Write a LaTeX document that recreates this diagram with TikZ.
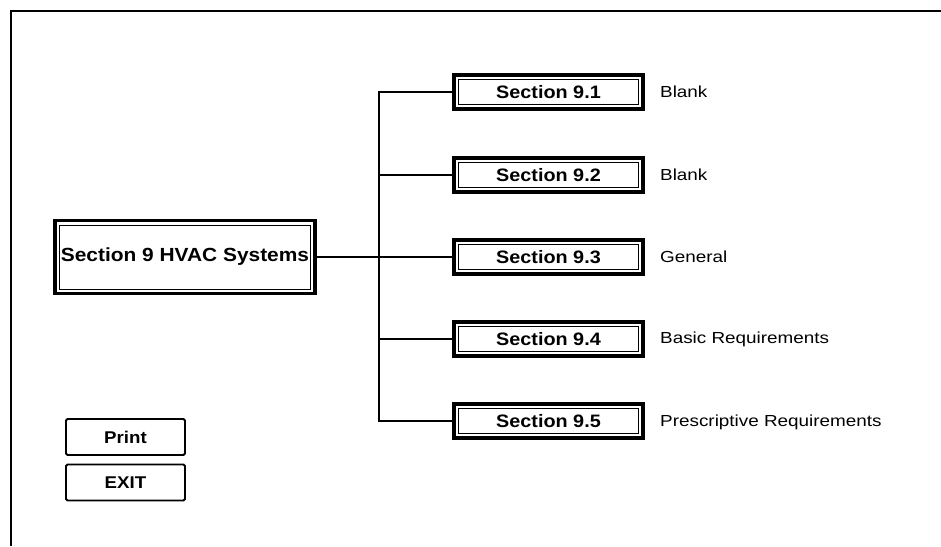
\documentclass[tikz,border=0pt]{standalone}
\usepackage{fontspec}
\setmainfont{Liberation Sans}
\newfontfamily\boxfont[FakeStretch=1.1]{Liberation Sans Bold}
\newfontfamily\labfont[FakeStretch=1.18]{Liberation Sans}
\begin{document}
\begin{tikzpicture}[x=1pt,y=-1pt,
  secbox/.style={draw=black,line width=3.4pt,fill=white,inner sep=0pt,outer sep=0pt,
    minimum width=189pt,minimum height=34pt,font=\boxfont\fontsize{18}{20}\selectfont},
  mainbox/.style={secbox,minimum width=260pt,minimum height=73pt,font=\boxfont\fontsize{19}{21}\selectfont},
  btn/.style={draw=black,line width=1.8pt,rounded corners=1.5pt,inner sep=0pt,outer sep=0pt,
    minimum width=119pt,minimum height=36pt,font=\boxfont\fontsize{17}{20}\selectfont},
  lab/.style={anchor=west,inner sep=0pt,font=\labfont\fontsize{16}{19}\selectfont},
  conn/.style={line width=2.8pt,black},
  inner/.style={line width=1pt,black}]
\useasboundingbox (0,0) rectangle (941,546);
% frame
\draw[line width=2.4pt] (11,546) -- (11,11) -- (941,11);
% boxes
\node[mainbox] (main) at (185,257) {Section 9 HVAC Systems};
\node[secbox] (s1) at (548.5,92) {Section 9.1};
\node[secbox] (s2) at (548.5,175) {Section 9.2};
\node[secbox] (s3) at (548.5,257) {Section 9.3};
\node[secbox] (s4) at (548.5,339) {Section 9.4};
\node[secbox] (s5) at (548.5,421) {Section 9.5};
\foreach \n in {main,s1,s2,s3,s4,s5}{
  \draw[inner] ([shift={(4.5,4.5)}]\n.north west) rectangle ([shift={(-4.5,-4.5)}]\n.south east);
}
% connectors
\coordinate (top) at (379,92);
\coordinate (bot) at (379,421);
\draw[conn,line cap=rect] (top) -- (bot);
\draw[conn] (top) -- (s1.west);
\draw[conn] (379,175) -- (s2.west);
\draw[conn] (main.east) -- (s3.west);
\draw[conn] (379,339) -- (s4.west);
\draw[conn] (bot) -- (s5.west);
% labels
\node[lab] (l1) at (660,92) {Blank};
\node[lab] (l2) at (660,175) {Blank};
\node[lab] (l3) at (660,257) {General};
\node[lab] (l4) at (660,339) {Basic Requirements};
\node[lab] (l5) at (660,422) {Prescriptive Requirements};
% buttons
\node[btn] (print) at (125.5,437) {Print};
\node[btn] (exit) at (125.5,482.5) {EXIT};
\end{tikzpicture}
\end{document}
